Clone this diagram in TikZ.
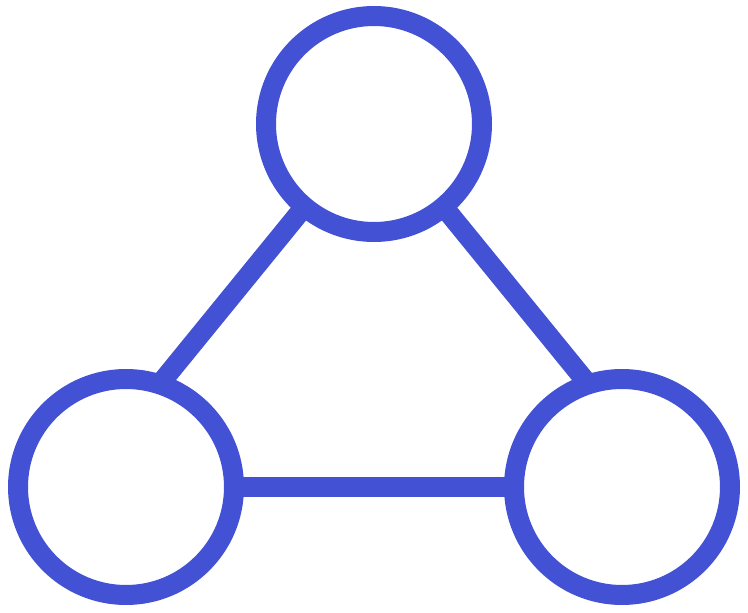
\documentclass[tikz,border=0pt]{standalone}
\usetikzlibrary{backgrounds}
\definecolor{nodeblue}{HTML}{4351D5}
\begin{document}
\begin{tikzpicture}[x=1pt,y=-1pt,
  ring/.style={circle,draw=nodeblue,line width=20pt,minimum size=216pt,inner sep=0pt,fill=white},
  link/.style={draw=nodeblue,line width=20pt,shorten <=-12pt,shorten >=-12pt}]
\useasboundingbox (0,0) rectangle (748,613);
\node[ring] (t) at (374,124) {};
\node[ring] (l) at (126,487) {};
\node[ring] (r) at (622,487) {};
\begin{scope}[on background layer]
\draw[link] (t.230) -- (l.70);
\draw[link] (t.310) -- (r.110);
\draw[link] (l) -- (r);
\end{scope}
\end{tikzpicture}
\end{document}
